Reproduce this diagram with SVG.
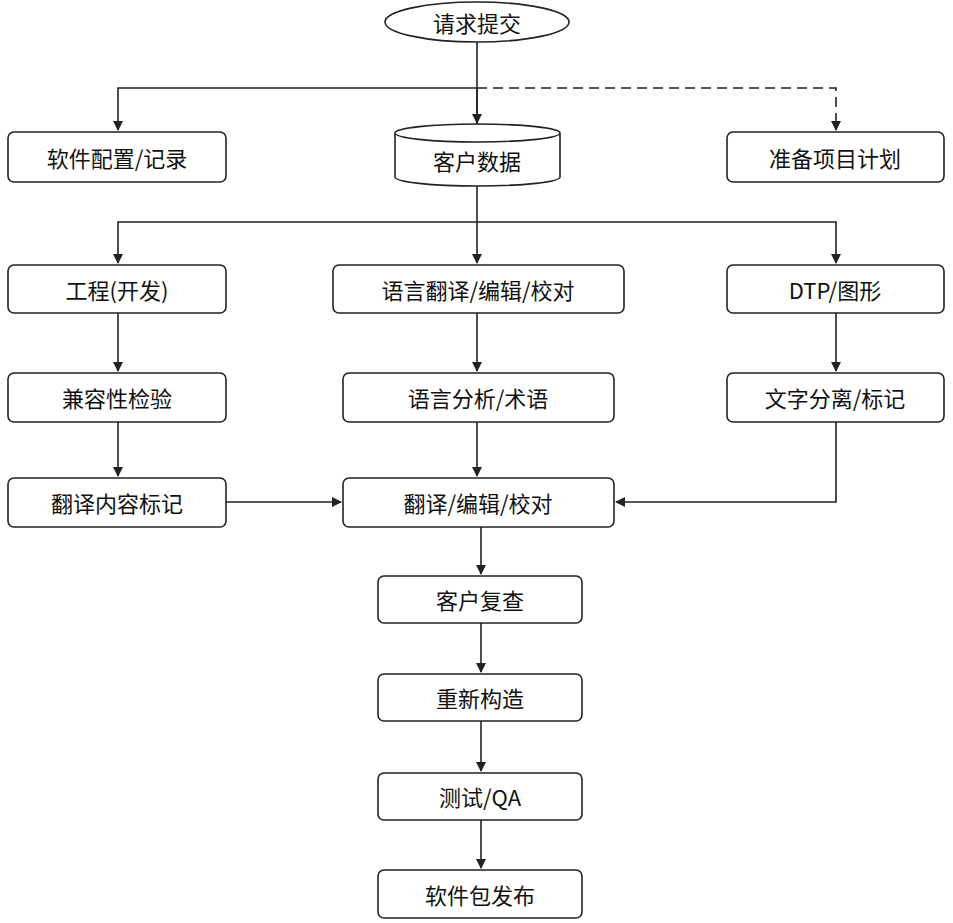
<svg xmlns="http://www.w3.org/2000/svg" width="953" height="923" viewBox="0 0 953 923">
<style>
.b{fill:#fff;stroke:#222;stroke-width:1.6}
.t{font-family:"Noto Sans CJK SC","Liberation Sans",sans-serif;font-size:22px;fill:#111;text-anchor:middle;dominant-baseline:central}
.c{fill:none;stroke:#222;stroke-width:1.6}
</style>
<defs><marker id="a" markerWidth="10" markerHeight="12" refX="9" refY="6" orient="auto" markerUnits="userSpaceOnUse"><path d="M0,1 L10,6 L0,11 Z" fill="#222"/></marker></defs>
<rect width="953" height="923" fill="#fff"/>
<g id="connectors">
<path class="c" d="M477,42 V125"/>
<path class="c" d="M477,88 H118 V130" marker-end="url(#a)"/>
<path class="c" d="M477,88 V123" marker-end="url(#a)"/>
<path class="c" d="M477,88 H836 V130" stroke-dasharray="10,6" marker-end="url(#a)"/>
<path class="c" d="M477,185 V263" marker-end="url(#a)"/>
<path class="c" d="M477,222 H118 V263" marker-end="url(#a)"/>
<path class="c" d="M477,222 H836 V263" marker-end="url(#a)"/>
<path class="c" d="M118,313 V371" marker-end="url(#a)"/>
<path class="c" d="M477,313 V371" marker-end="url(#a)"/>
<path class="c" d="M836,313 V371" marker-end="url(#a)"/>
<path class="c" d="M118,422 V476" marker-end="url(#a)"/>
<path class="c" d="M477,422 V476" marker-end="url(#a)"/>
<path class="c" d="M226,502 H341" marker-end="url(#a)"/>
<path class="c" d="M836,422 V502 H616" marker-end="url(#a)"/>
<path class="c" d="M481,527 V574" marker-end="url(#a)"/>
<path class="c" d="M481,623 V672" marker-end="url(#a)"/>
<path class="c" d="M481,721 V771" marker-end="url(#a)"/>
<path class="c" d="M481,820 V868" marker-end="url(#a)"/>
</g>
<g id="n0"><ellipse class="b" cx="477" cy="22" rx="92" ry="20"/><text class="t" x="477" y="22">请求提交</text></g>
<g id="n1"><rect class="b" x="8" y="132" width="218" height="50" rx="6"/><text class="t" x="117" y="157">软件配置/记录</text></g>
<g id="n2"><path class="b" d="M395,133 V177 A82.5,9 0 0 0 560,177 V133 A82.5,9 0 0 0 395,133 A82.5,9 0 0 0 560,133"/><text class="t" x="477" y="160">客户数据</text></g>
<g id="n3"><rect class="b" x="727" y="132" width="217" height="50" rx="6"/><text class="t" x="835" y="157">准备项目计划</text></g>
<g id="n4"><rect class="b" x="8" y="265" width="218" height="48" rx="6"/><text class="t" x="117" y="289">工程(开发)</text></g>
<g id="n5"><rect class="b" x="333" y="265" width="291" height="48" rx="6"/><text class="t" x="478" y="289">语言翻译/编辑/校对</text></g>
<g id="n6"><rect class="b" x="727" y="265" width="217" height="48" rx="6"/><text class="t" x="835" y="289">DTP/图形</text></g>
<g id="n7"><rect class="b" x="8" y="373" width="218" height="49" rx="6"/><text class="t" x="117" y="397">兼容性检验</text></g>
<g id="n8"><rect class="b" x="343" y="373" width="271" height="49" rx="6"/><text class="t" x="478" y="397">语言分析/术语</text></g>
<g id="n9"><rect class="b" x="727" y="373" width="217" height="49" rx="6"/><text class="t" x="835" y="397">文字分离/标记</text></g>
<g id="n10"><rect class="b" x="8" y="478" width="218" height="49" rx="6"/><text class="t" x="117" y="502">翻译内容标记</text></g>
<g id="n11"><rect class="b" x="343" y="478" width="271" height="49" rx="6"/><text class="t" x="478" y="502">翻译/编辑/校对</text></g>
<g id="n12"><rect class="b" x="378" y="576" width="204" height="47" rx="6"/><text class="t" x="480" y="599">客户复查</text></g>
<g id="n13"><rect class="b" x="378" y="674" width="204" height="47" rx="6"/><text class="t" x="480" y="697">重新构造</text></g>
<g id="n14"><rect class="b" x="378" y="773" width="204" height="47" rx="6"/><text class="t" x="480" y="796">测试/QA</text></g>
<g id="n15"><rect class="b" x="378" y="870" width="204" height="48" rx="6"/><text class="t" x="480" y="894">软件包发布</text></g>
</svg>
